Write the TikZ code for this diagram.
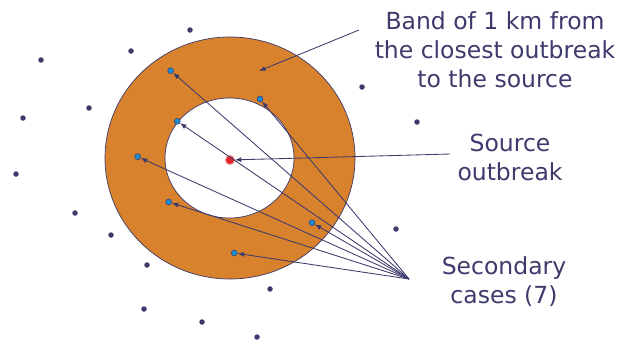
\documentclass[tikz,border=0pt]{standalone}
\usepackage{fontspec}
\setmainfont{DejaVu Sans}
\usepackage{xcolor}
\definecolor{cBand}{HTML}{D8822D}
\definecolor{cNavy}{HTML}{3D3A6C}
\definecolor{cCase}{HTML}{1B8DD0}
\definecolor{cSource}{HTML}{E2252B}
\usetikzlibrary{arrows.meta}
\tikzset{
  dot-farm/.style={circle,fill=cNavy,inner sep=0pt,minimum size=5.5pt},
  dot-case/.style={circle,draw=cNavy,fill=cCase,line width=0.5pt,
    inner sep=0pt,minimum size=6pt},
  dot-source/.style={circle,draw=cSource!50,fill=cSource,line width=0.8pt,
    inner sep=0pt,minimum size=9pt},
  band-line/.style={draw=cNavy,line width=0.7pt},
  label-text/.style={align=center,text=cNavy,
    font=\fontsize{23.5}{29}\selectfont},
  arrow/.style={-{Latex[length=6.5pt,width=5pt]},draw=cNavy,line width=0.85pt},
}

\begin{document}
\begin{tikzpicture}[x=1pt,y=-1pt]
  \useasboundingbox (0,0) rectangle (623,343);
  % band of 1 km round the source
  \fill[cBand,even odd rule] (230,158) ellipse [x radius=125,y radius=121]
    (229.5,158) ellipse [x radius=64.5,y radius=60];
  \draw[band-line] (230,158) ellipse [x radius=125,y radius=121];
  \draw[band-line] (229.5,158) ellipse [x radius=64.5,y radius=60];
  % farms without cases
  \foreach \x/\y [count=\i] in {190/30, 131/51, 41/60, 89/108, 23/118,
      16/174, 75/213, 111/235, 147/265, 144/309, 202/322, 257/337,
      270/289, 396/229, 417/122, 362/87} {
    \node[dot-farm] (farm\i) at (\x,\y) {};
  }
  % secondary cases
  \foreach \x/\y [count=\i] in {170.7/70.7, 260/99, 177.3/121.3,
      137.7/156.7, 168.7/202, 312/222.7, 234.3/253} {
    \node[dot-case] (case\i) at (\x,\y) {};
  }
  \node[dot-source] (source) at (230,160) {};
  % labels
  \node[label-text] (band-label) at (495,50)
    {Band of 1 km from\\the closest outbreak\\to the source};
  \node[label-text] (source-label) at (510,157) {Source\\outbreak};
  \node[label-text] (cases-label) at (504,282) {Secondary\\cases (7)};
  \coordinate (band-tail) at (359,30);
  \coordinate (band-tip) at (259,71);
  \coordinate (source-tail) at (450,154);
  \coordinate (cases-hub) at (409,279);
  \draw[arrow] (band-tail) -- (band-tip);
  \draw[arrow] (source-tail) -- (source);
  \foreach \i in {1,...,7}
    \draw[arrow] (cases-hub) -- (case\i);
\end{tikzpicture}
\end{document}
